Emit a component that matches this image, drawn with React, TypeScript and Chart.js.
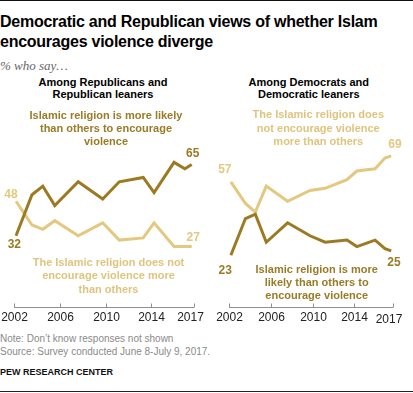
import React, { useEffect, useRef } from 'react';
import { Chart, registerables } from 'chart.js';

Chart.register(...registerables);

// ---- data ----
const surveyDates = [2002.15, 2003.55, 2004.5, 2005.55, 2007.6, 2009.75, 2011.2, 2013.3, 2014.25, 2016.0, 2016.95, 2017.55];
const tickYears = [2002, 2006, 2010, 2014, 2017];
const tickLabels = ['2002', '2006', '2010', '2014', '2017'];

const repMoreLikely = [32, 51, 55, 46, 57, 49, 57, 59, 52, 66, 63, 65];
const repNotMore = [48, 37, 35, 39, 32, 38, 30, 31, 38, 27, 27, 27];
const demMoreLikely = [23, 40, 42, 29, 38, 32, 29, 30, 27, 30, 26, 25];
const demNotMore = [57, 47, 43, 55, 48, 53, 54, 58, 62, 63, 68, 69];

const DARK = '#9b7a22';
const LIGHT = '#e4c880';
const DARK_TEXT = '#9a7b26';
const LIGHT_TEXT = '#dfc47e';
const FONT = '"Liberation Sans", Arial, Helvetica, sans-serif';

const axisPlugin = {
  id: 'pewAxis',
  afterDraw(chart: any, _args: any, opts: any) {
    const { ctx, chartArea, scales } = chart;
    const xs = scales.x;
    ctx.save();
    const yb = Math.round(chartArea.bottom) + 0.5;
    ctx.strokeStyle = '#8f8f8f';
    ctx.lineWidth = 1;
    ctx.beginPath();
    ctx.moveTo(chartArea.left, yb);
    ctx.lineTo(chartArea.right, yb);
    const last = tickYears.length - 1;
    const pxs = tickYears.map((t, i) => Math.round(xs.getPixelForValue(i === last ? xs.max : t)) + 0.5);
    pxs.forEach((px) => {
      ctx.moveTo(px, yb);
      ctx.lineTo(px, yb - 4);
    });
    ctx.stroke();
    ctx.fillStyle = '#222';
    ctx.font = `12px ${FONT}`;
    ctx.textAlign = 'center';
    ctx.textBaseline = 'middle';
    tickLabels.forEach((lab, i) => {
      const isLast = i === last;
      ctx.fillText(
        lab,
        pxs[i] + (isLast ? opts.lastDx || 0 : 0),
        chartArea.bottom + 11 + (isLast ? opts.lastDrop || 0 : 0)
      );
    });
    (opts.labels || []).forEach((l: any) => {
      const meta = chart.getDatasetMeta(l.ds);
      const ds = chart.data.datasets[l.ds];
      const idx = l.idx < 0 ? ds.data.length - 1 : l.idx;
      const pt = meta.data[idx];
      ctx.fillStyle = ds.borderColor;
      ctx.font = `bold 12px ${FONT}`;
      ctx.fillText(String(ds.data[idx].y), pt.x + l.dx, pt.y + l.dy);
    });
    ctx.restore();
  },
};

function toPoints(vals: number[]) {
  return surveyDates.map((x, i) => ({ x, y: vals[i] }));
}

function makeConfig(dark: number[], light: number[], padding: any, labels: any[], lastDrop: number, lastDx: number) {
  return {
    type: 'line' as const,
    data: {
      datasets: [
        {
          label: 'Islamic religion is more likely than others to encourage violence',
          data: toPoints(dark),
          borderColor: DARK,
          borderWidth: 3,
          pointRadius: 0,
          tension: 0,
          borderJoinStyle: 'miter' as const,
          borderCapStyle: 'butt' as const,
          fill: false,
        },
        {
          label: 'The Islamic religion does not encourage violence more than others',
          data: toPoints(light),
          borderColor: LIGHT,
          borderWidth: 3,
          pointRadius: 0,
          tension: 0,
          borderJoinStyle: 'miter' as const,
          borderCapStyle: 'butt' as const,
          fill: false,
        },
      ],
    },
    options: {
      responsive: false,
      maintainAspectRatio: false,
      animation: false as const,
      devicePixelRatio: 1,
      layout: { padding },
      scales: {
        x: { type: 'linear' as const, display: false, min: 2002, max: 2017.75 },
        y: { display: false, min: -1, max: 100 },
      },
      plugins: {
        legend: { display: false },
        tooltip: { enabled: false },
        pewAxis: { labels, lastDrop, lastDx },
      },
    },
    plugins: [axisPlugin],
  };
}

function LineCanvas(props: { cfg: any; left: number; top: number; width: number; height: number }) {
  const ref = useRef<HTMLCanvasElement>(null);
  useEffect(() => {
    if (!ref.current) return;
    const chart = new Chart(ref.current, props.cfg);
    return () => chart.destroy();
  }, []);
  return (
    <canvas
      ref={ref}
      width={props.width}
      height={props.height}
      style={{ position: 'absolute', left: props.left, top: props.top, width: props.width, height: props.height }}
    />
  );
}

function Label(props: { cx: number; top: number; w: number; lh: number; color: string; size?: number; children: any }) {
  return (
    <div
      style={{
        position: 'absolute',
        left: props.cx - props.w / 2,
        top: props.top,
        width: props.w,
        textAlign: 'center',
        fontWeight: 'bold',
        fontSize: props.size || 11,
        lineHeight: `${props.lh}px`,
        color: props.color,
        whiteSpace: 'nowrap',
      }}
    >
      {props.children}
    </div>
  );
}

export default function App() {
  const leftCfg = makeConfig(
    repMoreLikely,
    repNotMore,
    { left: 14.3, right: 12, top: 9, bottom: 23 },
    [
      { ds: 1, idx: 0, dx: -5, dy: -6.5 },
      { ds: 0, idx: 0, dx: -1.7, dy: 8.6 },
      { ds: 0, idx: -1, dx: 1, dy: -10.5 },
      { ds: 1, idx: -1, dx: 1.5, dy: -8.5 },
    ],
    0,
    -4
  );
  const rightCfg = makeConfig(
    demMoreLikely,
    demNotMore,
    { left: 23.3, right: 19.7, top: 9, bottom: 23 },
    [
      { ds: 1, idx: 0, dx: -6, dy: -12.5 },
      { ds: 0, idx: 0, dx: -5.7, dy: 15.5 },
      { ds: 1, idx: -1, dx: 3.7, dy: -11 },
      { ds: 0, idx: -1, dx: 2.8, dy: 12 },
    ],
    2,
    -4.5
  );

  return (
    <div
      style={{
        position: 'absolute',
        left: 0,
        top: 0,
        width: 413,
        height: 393,
        background: '#fff',
        overflow: 'hidden',
        fontFamily: FONT,
      }}
    >
      <div style={{ position: 'absolute', left: 0, top: 0, width: 413, height: 1, background: '#111' }} />
      <div
        style={{
          position: 'absolute',
          left: 0,
          top: 12,
          fontWeight: 'bold',
          fontSize: 16,
          letterSpacing: '-0.25px',
          lineHeight: '19.5px',
          color: '#000',
          whiteSpace: 'nowrap',
        }}
      >
        Democratic and Republican views of whether Islam
        <br />
        encourages violence diverge
      </div>
      <div
        style={{
          position: 'absolute',
          left: 0,
          top: 57.5,
          fontFamily: '"Liberation Serif", "DejaVu Serif", serif',
          fontStyle: 'italic',
          fontSize: 13,
          lineHeight: '15px',
          color: '#666',
        }}
      >
        % who say…
      </div>

      <Label cx={103} top={75.7} w={200} lh={12} color="#000">
        Among Republicans and
        <br />
        Republican leaners
      </Label>
      <Label cx={308.8} top={75.7} w={200} lh={12} color="#000">
        Among Democrats and
        <br />
        Democratic leaners
      </Label>

      <LineCanvas cfg={leftCfg} left={0} top={80} width={206} height={250} />
      <LineCanvas cfg={rightCfg} left={206} top={80} width={207} height={250} />

      <Label cx={106} top={108.5} w={200} lh={13} color={DARK_TEXT}>
        Islamic religion is more likely
        <br />
        than others to encourage
        <br />
        violence
      </Label>
      <Label cx={108.5} top={255.5} w={200} lh={13.5} color={LIGHT_TEXT}>
        The Islamic religion does not
        <br />
        encourage violence more
        <br />
        than others
      </Label>
      <Label cx={318.3} top={108.3} w={200} lh={13.3} color={LIGHT_TEXT}>
        The Islamic religion does
        <br />
        not encourage violence
        <br />
        more than others
      </Label>
      <Label cx={316.7} top={262.5} w={200} lh={13} color={DARK_TEXT}>
        Islamic religion is more
        <br />
        likely than others to
        <br />
        encourage violence
      </Label>

      <div
        style={{
          position: 'absolute',
          left: 0,
          top: 331.6,
          fontSize: 10,
          lineHeight: '13.4px',
          color: '#8a8a8a',
          whiteSpace: 'nowrap',
        }}
      >
        Note: Don’t know responses not shown
        <br />
        Source: Survey conducted June 8-July 9, 2017.
      </div>
      <div
        style={{
          position: 'absolute',
          left: 0,
          top: 365.7,
          fontSize: 9,
          fontWeight: 'bold',
          lineHeight: '12px',
          color: '#111',
          whiteSpace: 'nowrap',
        }}
      >
        PEW RESEARCH CENTER
      </div>
      <div style={{ position: 'absolute', left: 0, top: 391, width: 413, height: 1, background: '#222' }} />
    </div>
  );
}
